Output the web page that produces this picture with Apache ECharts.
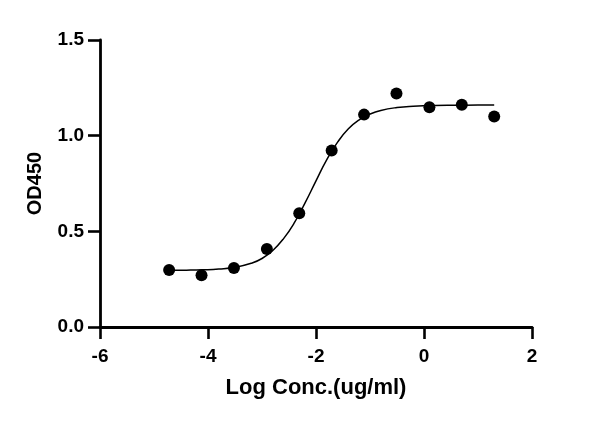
<!DOCTYPE html>
<html>
<head>
<meta charset="utf-8">
<script src="https://cdn.jsdelivr.net/npm/echarts@6/dist/echarts.min.js"></script>
<style>
html,body{margin:0;padding:0;background:#fff;}
#chart{width:600px;height:423px;}
</style>
</head>
<body>
<div id="chart"></div>
<script>
//测量点 (log浓度, OD450)
var logConc=[-4.72,-4.12,-3.52,-2.91,-2.31,-1.71,-1.11,-0.51,0.10,0.70,1.30];
var od450=[0.298,0.270,0.308,0.408,0.594,0.922,1.110,1.220,1.148,1.162,1.100];

//拟合曲线
var fitX=[-4.72,-4.4,-4.1,-3.8,-3.5,-3.2,-3.0,-2.8,-2.6,-2.4,-2.2,-2.0,-1.8,-1.6,-1.4,-1.2,-1.0,-0.8,-0.5,-0.2,0.2,0.6,1.0,1.3];
var fitY=[0.296,0.297,0.299,0.303,0.312,0.333,0.358,0.400,0.462,0.545,0.650,0.764,0.875,0.966,1.036,1.083,1.113,1.132,1.147,1.154,1.158,1.159,1.160,1.160];

//坐标轴刻度
var xTicks=[-6,-4,-2,0,2];
var yTicks=[0.0,0.5,1.0,1.5];

var pts=[];
for(var i=0;i<logConc.length;i++){
    pts.push([logConc[i],od450[i]]);
}
var fit=[];
for(var j=0;j<fitX.length;j++){
    fit.push([fitX[j],fitY[j]]);
}

var font='"Liberation Sans", Arial, sans-serif';
var myChart=echarts.init(document.getElementById('chart'));
var option={
    backgroundColor:'#fff',
    animation:false,
    grid:{left:100,right:68,top:40,bottom:96,containLabel:false},
    xAxis:{
        type:'value',
        min:xTicks[0],
        max:xTicks[xTicks.length-1],
        interval:2,
        name:'Log Conc.(ug/ml)',
        nameLocation:'middle',
        nameGap:50,
        nameTextStyle:{fontFamily:font,fontWeight:'bold',fontSize:22,color:'#000'},
        axisLine:{onZero:false,lineStyle:{color:'#000',width:2.8}},
        axisTick:{show:true,length:12,lineStyle:{color:'#000',width:2.6}},
        axisLabel:{fontFamily:font,fontWeight:'bold',fontSize:19,color:'#000',margin:20},
        splitLine:{show:false}
    },
    yAxis:{
        type:'value',
        min:yTicks[0],
        max:yTicks[yTicks.length-1],
        interval:0.5,
        name:'OD450',
        nameLocation:'middle',
        nameGap:55,
        nameTextStyle:{fontFamily:font,fontWeight:'bold',fontSize:20,color:'#000'},
        axisLine:{onZero:false,lineStyle:{color:'#000',width:2.8}},
        axisTick:{show:true,length:12,lineStyle:{color:'#000',width:2.6}},
        axisLabel:{fontFamily:font,fontWeight:'bold',fontSize:19,color:'#000',margin:16,
            formatter:function(v){return v.toFixed(1);}},
        splitLine:{show:false}
    },
    series:[
        {
            type:'line',
            data:fit,
            smooth:true,
            showSymbol:false,
            lineStyle:{color:'#000',width:1.5},
            z:1
        },
        {
            type:'scatter',
            data:pts,
            symbol:'circle',
            symbolSize:12,
            itemStyle:{color:'#000',opacity:1},
            z:2
        }
    ]
};
myChart.setOption(option);
</script>
</body>
</html>
